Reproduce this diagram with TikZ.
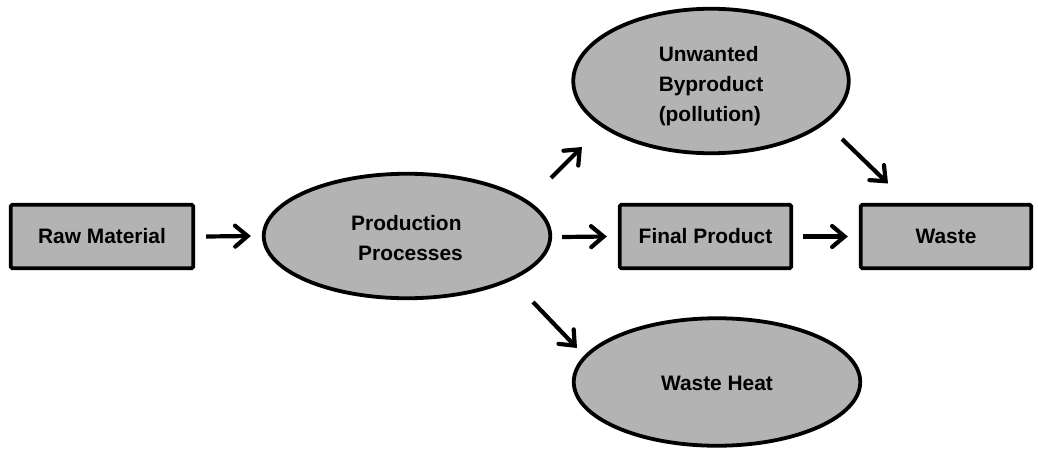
\documentclass[tikz,border=0pt]{standalone}
\usepackage{fontspec}
\setmainfont{Liberation Sans}
\usetikzlibrary{shapes.geometric,arrows.meta}
\definecolor{boxgray}{HTML}{B3B3B3}
\begin{document}
\begin{tikzpicture}[x=1pt,y=-1pt,
  every node/.style={font=\fontsize{20.9}{30}\selectfont\bfseries},
  stepbox/.style={draw, line width=3.8pt, fill=boxgray, rounded corners=1.5pt, inner sep=0pt, minimum height=63.5pt},
  blob/.style={draw, line width=3.8pt, fill=boxgray, ellipse, inner sep=0pt, align=left},
  arr/.style={line width=4.2pt, -{Straight Barb[length=12.5pt,width=21pt,line cap=round]}}]
\useasboundingbox (0,0) rectangle (1038,452);
\node[stepbox, minimum width=182.5pt] (raw) at (102,236.5) {Raw Material};
\node[blob, minimum width=286.5pt, minimum height=124.5pt] (prod) at (407,236) {\rule{0pt}{20pt}Production\\\hspace*{7pt}Processes};
\node[stepbox, minimum width=171.5pt] (fin) at (705.5,236.5) {Final Product};
\node[stepbox, minimum width=170.5pt] (waste) at (946,236.5) {Waste};
\node[blob, minimum width=275.5pt, minimum height=144.5pt] (unw) at (711,81) {\rule{0pt}{26pt}Unwanted\\Byproduct\\(pollution)};
\node[blob, minimum width=286.5pt, minimum height=127.5pt] (heat) at (717,382) {\rule{0pt}{18pt}Waste Heat};
\draw[arr] ([xshift=11pt]raw.east) -- ([xshift=-11pt]prod.west);
\draw[arr] ([shift={(10,1)}]prod.east) -- ([xshift=-11pt]fin.west);
\draw[arr] ([xshift=10pt]fin.east) -- ([xshift=-11pt]waste.west);
\draw[arr] ([shift={(144,-58)}]prod.center) -- ([shift={(-129,66)}]unw.center);
\draw[arr] ([shift={(131,58)}]unw.center) -- ([shift={(-58,-53)}]waste.center);
\draw[arr] ([shift={(126,66)}]prod.center) -- ([shift={(-140,-34)}]heat.center);
\end{tikzpicture}
\end{document}
